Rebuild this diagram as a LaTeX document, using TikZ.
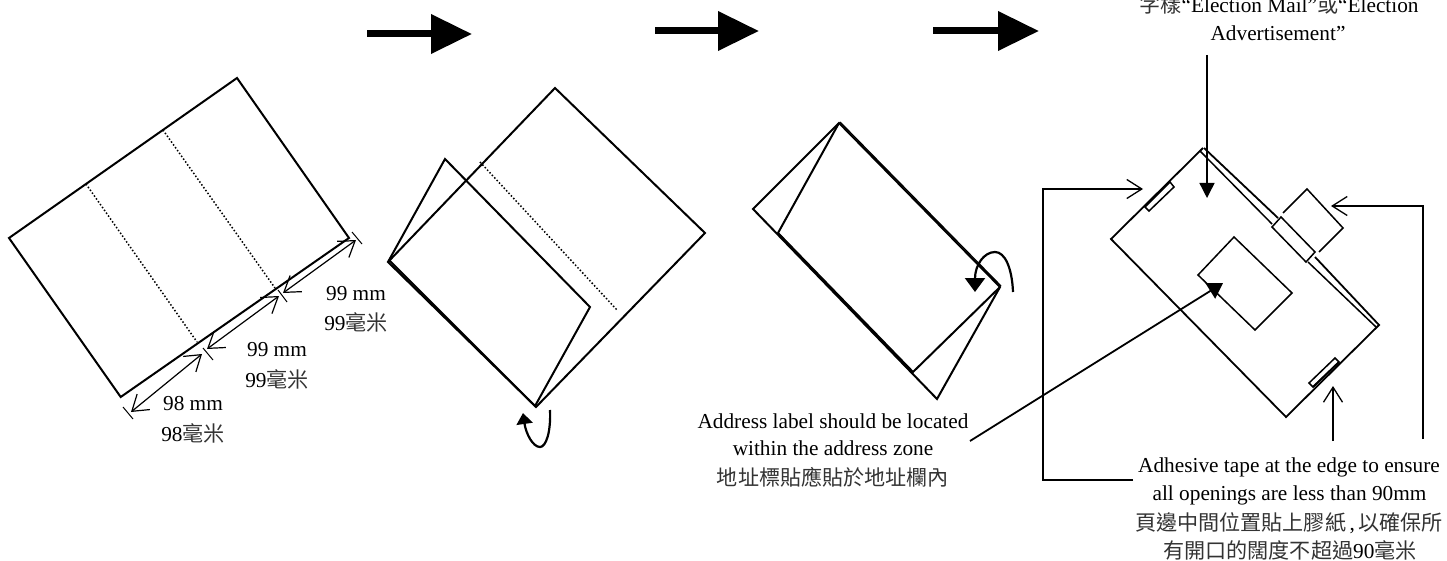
\documentclass[tikz,border=0pt]{standalone}
\usepackage{fontspec}
\setmainfont{Liberation Serif}
\newfontfamily\cjk{Noto Sans CJK TC}
\usetikzlibrary{arrows.meta}
\tikzset{
  x=1pt,y=-1pt,
  edge/.style={line width=2pt,line join=miter},
  thin edge/.style={line width=1.5pt},
  fold/.style={line width=1.5pt,dash pattern=on 1.5pt off 2pt},
  dim/.style={line width=1.2pt,{Straight Barb[length=15pt,width=20pt,line width=1.2pt]}-{Straight Barb[length=15pt,width=20pt,line width=1.2pt]}},
  tick/.style={line width=1pt},
  lead/.style={line width=1.4pt,-{Straight Barb[length=15pt,width=19pt,line width=1.3pt]}},
  solidlead/.style={line width=1.4pt,-{Triangle[length=15pt,width=15pt]}},
  curl/.style={line width=2.2pt,-{Triangle[length=14pt,width=20pt]}},
  bigarrow/.style={line width=7pt,-{Triangle[length=41pt,width=38pt]}},
  lbl/.style={font=\fontsize{21.3}{29}\selectfont,inner sep=0pt,align=center,anchor=base},
}
\newcommand{\zh}[1]{{\cjk\fontsize{21.1}{29}\selectfont\color{black!80}#1}}
\begin{document}
\begin{tikzpicture}
\useasboundingbox (0,0) rectangle (1447,561);
% big arrows
\coordinate (a1s) at (367,34); \coordinate (a1e) at (472,34);
\coordinate (a2s) at (655,31); \coordinate (a2e) at (759,31);
\coordinate (a3s) at (933,31); \coordinate (a3e) at (1039,31);
\draw[bigarrow] (a1s) -- (a1e);
\draw[bigarrow] (a2s) -- (a2e);
\draw[bigarrow] (a3s) -- (a3e);
% panel 1
\draw[edge] (9,238) -- (237,78) -- (349,238) -- (120.7,397) -- cycle;
\draw[fold] (86,184) -- (197,342);
\draw[fold] (163,130) -- (275,288);
\coordinate (d0) at (131,412); \coordinate (d1) at (202,354);
\coordinate (d2) at (207,349); \coordinate (d3) at (279,296);
\coordinate (d4) at (283,293); \coordinate (d5) at (356,240);
\draw[dim] (d0) -- (d1);
\draw[dim] (d2) -- (d3);
\draw[dim] (d4) -- (d5);
\draw[tick] (123,407) -- (133,419);
\draw[tick] (203,348) -- (213,360);
\draw[tick] (278,290) -- (287,302);
\draw[tick] (352,232) -- (362,244);
\node[lbl] (l1) at (193,410) {98 mm};
\node[lbl] (l1z) at (193,441) {98\zh{毫米}};
\node[lbl] (l2) at (277,356) {99 mm};
\node[lbl] (l2z) at (277,387) {99\zh{毫米}};
\node[lbl] (l3) at (356,300) {99 mm};
\node[lbl] (l3z) at (356,330) {99\zh{毫米}};
% panel 2
\draw[edge] (388,262) -- (555,88) -- (705,233) -- (536,407) -- cycle;
\draw[edge] (388,262) -- (445,159) -- (590,307) -- (535,406) -- (389,260);
\draw[fold] (480,162) -- (617,310);
\draw[curl,-{Triangle[length=11pt,width=16pt]}] (550,410) .. controls (551,432) and (546,447) .. (540,447) .. controls (533,447) and (526,434) .. (523,413);
% panel 3
\draw[edge] (839,123) -- (753,209) -- (937,399) -- (1000,287) -- cycle;
\draw[edge] (839,123) -- (778,233) -- (913,372) -- (1000,287);
\draw[line width=1.3pt] (840,122) -- (1001,286);
\draw[line width=1.3pt] (778,233) -- (913,374);
\draw[curl] (1013,292) .. controls (1012,268) and (1005,252) .. (995,252) .. controls (984,252) and (975,265) .. (975,292);
% panel 4
\draw[edge,line width=1.8pt] (1204,148) -- (1278,218);
\draw[edge,line width=1.8pt] (1315,257) -- (1379,325) -- (1286,417) -- (1111,239) -- (1203,148);
\draw[thin edge] (1200,151) -- (1272,224);
\draw[thin edge] (1308,262) -- (1376,327);
\draw[thin edge] (1281,217) -- (1272,227) -- (1306,262) -- (1315,252) -- cycle;
\draw[thin edge] (1283,213) -- (1307,189) -- (1343,228) -- (1319,252);
\draw[thin edge] (1234,237) -- (1198,275) -- (1255,330) -- (1292,293) -- cycle;
\draw[thin edge] (1145,207) -- (1149,211) -- (1174,187) -- (1170,182) -- cycle;
\draw[thin edge] (1309,383) -- (1313,387) -- (1339,362) -- (1335,358) -- cycle;
\draw[edge] (1313,387) -- (1339,362);
% texts
\node[lbl] (t1) at (1279,12.5) {\zh{字樣}“Election Mail”\zh{或}“Election};
\node[lbl] (t2) at (1278,41) {Advertisement”};
\node[lbl] (ad1) at (833,428) {Address label should be located};
\node[lbl] (ad2) at (833,455) {within the address zone};
\node[lbl] (ad3) at (833,485) {\zh{地址標貼應貼於地址欄內}};
\node[lbl] (ta1) at (1289,472) {Adhesive tape at the edge to ensure};
\node[lbl] (ta2) at (1289.5,500) {all openings are less than 90mm};
\node[lbl] (ta3) at (1289,530) {\zh{頁邊中間位置貼上膠紙}\,,\,\zh{以確保所}};
\node[lbl] (ta4) at (1290,558) {\zh{有開口的闊度不超過}90\zh{毫米}};
% leaders
\coordinate (p1) at (1207,55); \coordinate (p1e) at (1207,198);
\draw[solidlead] (p1) -- (p1e);
\coordinate (p2) at (970,441); \coordinate (p2e) at (1223,283);
\draw[solidlead,line width=1.8pt,-{Triangle[length=15pt,width=18pt]}] (p2) -- (p2e);
\coordinate (p3) at (1133,480); \coordinate (p3e) at (1143,189);
\draw[lead,line width=1.8pt] (p3) -- (1043,480) -- (1043,189) -- (p3e);
\coordinate (p4) at (1423,439); \coordinate (p4e) at (1331,206);
\draw[lead] (p4) -- (1423,206) -- (p4e);
\coordinate (p5) at (1333,441); \coordinate (p5e) at (1333,386);
\draw[lead] (p5) -- (p5e);
\end{tikzpicture}
\end{document}
